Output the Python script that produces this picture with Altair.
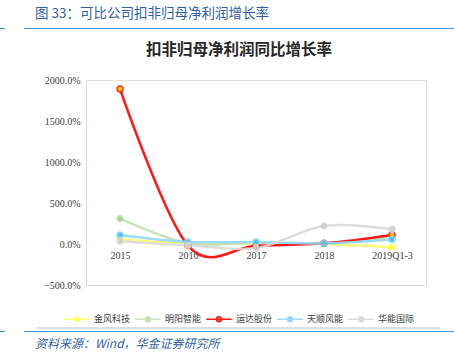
import altair as alt
import pandas as pd

periods = ["2015", "2016", "2017", "2018", "2019Q1-3"]
series_names = ["金风科技", "明阳智能", "运达股份", "天顺风能", "华能国际"]
jinfeng = [57, 5, 5, 0, -40]
mingyang = [310, 10, 15, 5, 90]
yunda = [1890, -20, -20, 8, 110]
tianshun = [110, 25, 25, 8, 55]
huaneng = [35, -15, -50, 220, 180]

line_colors = ["#FFFF66", "#C5E0B4", "#FF0000", "#8FD8F8", "#D9D9D9"]
dot_colors = ["#FFFF33", "#A9D18E", "#FFC000", "#4DC3F0", "#CFCFCF"]

rows = []
for name, vals in zip(series_names, [jinfeng, mingyang, yunda, tianshun, huaneng]):
    for p, v in zip(periods, vals):
        rows.append({"period": p, "series": name, "value": v})
df = pd.DataFrame(rows)

W, H = 340, 205
LEFT, TOP = 86, 80

x_enc = alt.X("period:N", sort=periods, scale=alt.Scale(type="point", padding=0.5),
              axis=alt.Axis(title=None, domain=False, ticks=False, labelAngle=0,
                            labelFont="Liberation Serif", labelFontSize=10,
                            labelColor="#404040", labelPadding=6, offset=-41))
y_enc = alt.Y("value:Q", scale=alt.Scale(domain=[-500, 2000], nice=False),
              axis=alt.Axis(title=None, domain=False, ticks=False, grid=False,
                            values=[-500, 0, 500, 1000, 1500, 2000],
                            labelExpr="format(datum.value, '.1f') + '%'",
                            labelFont="Liberation Serif", labelFontSize=10,
                            labelColor="#404040", labelPadding=6))

sym = "M-1,0H1M0.19,0A0.19,0.19,0,1,1,-0.19,0A0.19,0.19,0,1,1,0.19,0Z"
leg = alt.Legend(title=None, orient="none", direction="horizontal",
                 legendX=-23, legendY=225, symbolType=sym, symbolSize=650,
                 symbolStrokeWidth=1.6, labelFont="Noto Sans CJK SC",
                 labelFontSize=9, labelColor="#404040", labelOffset=3,
                 columnPadding=1)

stroke_scale = alt.Scale(domain=series_names, range=line_colors)
fill_scale = alt.Scale(domain=series_names, range=dot_colors)

lines = alt.Chart(df).mark_line(interpolate="cardinal", strokeWidth=2.5, opacity=0.9).encode(
    x=x_enc, y=y_enc,
    stroke=alt.Stroke("series:N", scale=stroke_scale, sort=series_names, legend=leg),
)
points = alt.Chart(df).mark_point(filled=True, size=40, strokeWidth=1.2, opacity=0.9).encode(
    x=x_enc, y=y_enc,
    fill=alt.Fill("series:N", scale=fill_scale, sort=series_names, legend=leg),
    stroke=alt.Stroke("series:N", scale=stroke_scale, sort=series_names, legend=leg),
)

one = alt.Data(values=[{}])
header = alt.Chart(one).mark_text(align="left", baseline="middle", font="Noto Sans CJK SC",
                                  fontSize=13.5, color="#2E5FA8").encode(
    x=alt.value(35 - LEFT), y=alt.value(14 - TOP), text=alt.value("图 33：可比公司扣非归母净利润增长率"))
title = alt.Chart(one).mark_text(align="center", baseline="middle", font="Noto Sans CJK SC",
                                 fontSize=15.5, fontWeight="bold", color="#262626").encode(
    x=alt.value(239 - LEFT), y=alt.value(50 - TOP), text=alt.value("扣非归母净利润同比增长率"))
footer = alt.Chart(one).mark_text(align="left", baseline="middle", font="Noto Sans CJK SC",
                                  fontSize=12, fontStyle="italic", color="#2E5FA8").encode(
    x=alt.value(35 - LEFT), y=alt.value(344 - TOP), text=alt.value("资料来源：Wind，华金证券研究所"))
rule_top1 = alt.Chart(one).mark_rule(color="#4A90D9", strokeWidth=1.2).encode(
    x=alt.value(24 - LEFT), x2=alt.value(454 - LEFT), y=alt.value(28.5 - TOP))
rule_top2 = alt.Chart(one).mark_rule(color="#4A90D9", strokeWidth=1.2).encode(
    x=alt.value(0 - LEFT), x2=alt.value(5 - LEFT), y=alt.value(28.5 - TOP))
rule_gray = alt.Chart(one).mark_rule(color="#BFBFBF", strokeWidth=1).encode(
    x=alt.value(37 - LEFT), x2=alt.value(440 - LEFT), y=alt.value(328 - TOP))
rule_bot1 = alt.Chart(one).mark_rule(color="#4A90D9", strokeWidth=1.2).encode(
    x=alt.value(24 - LEFT), x2=alt.value(454 - LEFT), y=alt.value(331.5 - TOP))
rule_bot2 = alt.Chart(one).mark_rule(color="#4A90D9", strokeWidth=1.2).encode(
    x=alt.value(0 - LEFT), x2=alt.value(5 - LEFT), y=alt.value(331.5 - TOP))

chart = alt.layer(lines, points, header, title, footer, rule_top1, rule_top2,
                  rule_gray, rule_bot1, rule_bot2).properties(
    width=W, height=H,
    autosize=alt.AutoSizeParams(type="none"),
    padding={"left": LEFT, "top": TOP, "right": 454 - LEFT - W, "bottom": 360 - TOP - H},
).configure_view(stroke=None).configure(background="white")

chart.save("out.html", embed_options={"renderer": "svg", "actions": False})
